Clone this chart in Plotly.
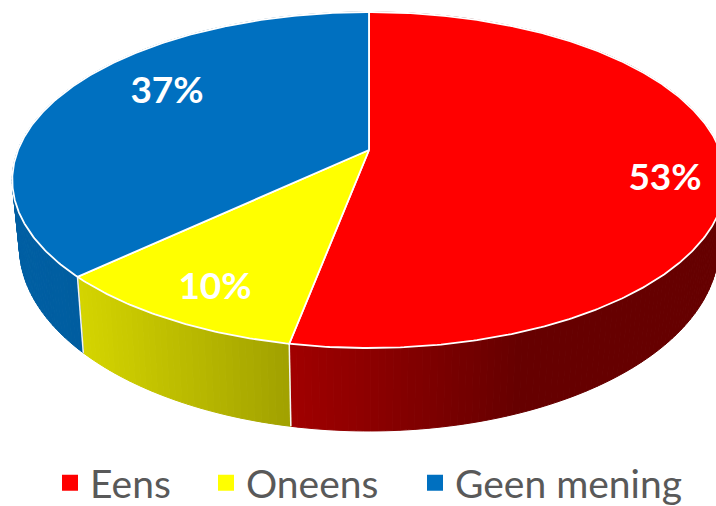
import numpy as np
import plotly.graph_objects as go

categories = ["Eens", "Oneens", "Geen mening"]
shares = [53, 10, 37]
colors = ["#FF0000", "#FFFF00", "#0070C0"]
label_anchor = [(665, 181), (215, 290), (167, 94)]
legend_left = [50, 206, 415]

# Projection of the pie onto the page, in page pixels
CX, APEX_Y, SX, KY, PERSP = 369.0, 150.0, 351.0, 135.86, 0.1786
BOTTOM_X, BOTTOM_A, BOTTOM_B = 0.98, 1.097, 49.2
SHADE_X = [12, 83, 289, 520, 726]
SHADE_V = [0.85, 0.83, 0.63, 0.40, 0.40]


def top(frac, r=1.0):
    a = 2 * np.pi * np.asarray(frac, dtype=float)
    u, v = r * np.sin(a), r * np.cos(a)
    d = 1 + PERSP * v
    return CX + SX * u / d, (APEX_Y - KY * v) / d


def bottom(frac):
    x, y = top(frac)
    return CX + BOTTOM_X * (x - CX), BOTTOM_A * y + BOTTOM_B


def rgb(hexcol):
    return [int(hexcol[i:i + 2], 16) for i in (1, 3, 5)]


edges = np.cumsum([0] + shares) / sum(shares)
fig = go.Figure()

# Side wall, shaded along x
for i, col in enumerate(colors):
    n = max(int((edges[i + 1] - edges[i]) * 360), 2)
    f = np.linspace(edges[i], edges[i + 1], n + 1)
    xt, yt = top(f)
    xb, yb = bottom(f)
    for j in range(n):
        s = np.interp((xt[j] + xt[j + 1]) / 2, SHADE_X, SHADE_V)
        c = "rgb(%d,%d,%d)" % tuple(int(round(s * q)) for q in rgb(col))
        fig.add_trace(go.Scatter(
            x=[xt[j], xt[j + 1], xb[j + 1], xb[j], xt[j]],
            y=[yt[j], yt[j + 1], yb[j + 1], yb[j], yt[j]],
            mode="lines", fill="toself", fillcolor=c,
            line=dict(color=c, width=1), showlegend=False, hoverinfo="skip"))

# Dividers on the wall
for e in edges[1:3]:
    xt, yt = top(e)
    xb, yb = bottom(e)
    fig.add_trace(go.Scatter(x=[xt, xb], y=[yt, yb], mode="lines",
                             line=dict(color="#f4f4f4", width=1.5),
                             showlegend=False, hoverinfo="skip"))

# Top face
for i, col in enumerate(colors):
    n = max(int((edges[i + 1] - edges[i]) * 720), 2)
    f = np.linspace(edges[i], edges[i + 1], n + 1)
    xt, yt = top(f)
    fig.add_trace(go.Scatter(
        x=np.r_[CX, xt, CX], y=np.r_[APEX_Y, yt, APEX_Y],
        mode="lines", fill="toself", fillcolor=col,
        line=dict(color="white", width=1.8), showlegend=False,
        name=categories[i], hoverinfo="name"))

# Value labels
fig.add_trace(go.Scatter(
    x=[p[0] for p in label_anchor], y=[p[1] for p in label_anchor],
    text=[f"{v}%" for v in shares], mode="text",
    textfont=dict(family="Lato", size=37, color="white", weight="bold"),
    textposition="middle center", showlegend=False, hoverinfo="skip"))

# Legend: one native legend per entry so each can be placed on its own
legends = {}
for k, (name, col, left) in enumerate(zip(categories, colors, legend_left)):
    key = "legend" if k == 0 else f"legend{k + 1}"
    fig.add_trace(go.Scatter(x=[None], y=[None], mode="markers", name=name, legend=key,
                             marker=dict(symbol="square", size=16, color=col)))
    legends[key] = dict(orientation="h", x=left / 716, xanchor="left", y=0.109, yanchor="top",
                        font=dict(family="Lato", size=39, color="#595959"),
                        bgcolor="rgba(0,0,0,0)", itemsizing="trace")

fig.update_layout(
    width=716, height=506, margin=dict(l=0, r=0, t=0, b=0, autoexpand=False),
    paper_bgcolor="white", plot_bgcolor="white",
    xaxis=dict(range=[0, 716], visible=False, fixedrange=True),
    yaxis=dict(range=[506, 0], visible=False, fixedrange=True),
    showlegend=True,
    **legends,
)
fig.write_html("out.html", config=dict(displayModeBar=False),
               post_script="document.body.style.margin='0';document.documentElement.style.overflow='hidden';")
